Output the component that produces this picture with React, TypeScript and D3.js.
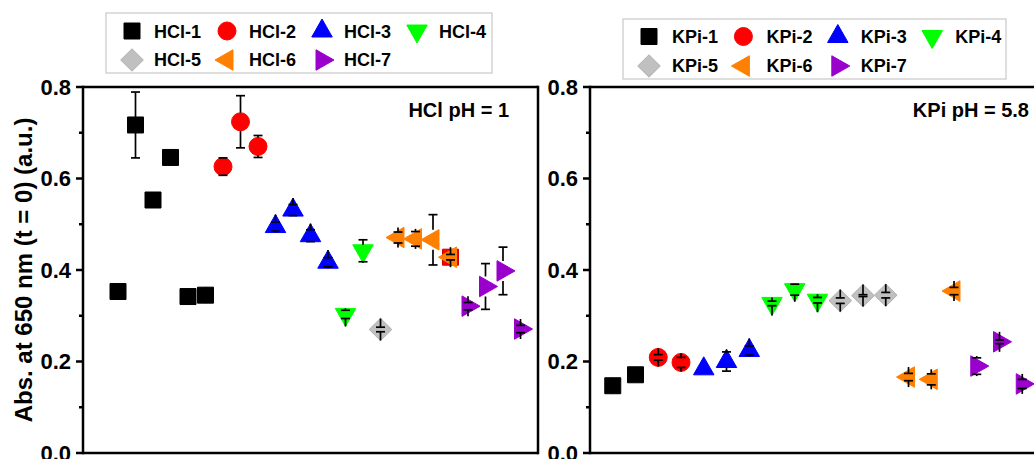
import React from "react";
import * as d3 from "d3";

// ---------- data ----------
const hclLabels = ["HCl-1", "HCl-2", "HCl-3", "HCl-4", "HCl-5", "HCl-6", "HCl-7"];
const kpiLabels = ["KPi-1", "KPi-2", "KPi-3", "KPi-4", "KPi-5", "KPi-6", "KPi-7"];
const seriesColors = ["#000000", "#ff0000", "#0000ff", "#00ff00", "#c0c0c0", "#ff8000", "#9900cc"];
const seriesShapes = ["square", "circle", "up", "down", "diamond", "left", "right"];

// HCl pH = 1 panel (sample position, value, error)
const hclX = [[2, 3, 4, 5, 6, 7], [8, 9, 10], [11, 12, 13, 14], [15, 16], [17], [18, 19, 20, 21], [22, 23, 24, 25]];
const hclY = [
  [0.353, 0.717, 0.553, 0.646, 0.342, 0.345],
  [0.626, 0.724, 0.670],
  [0.495, 0.531, 0.475, 0.417],
  [0.303, 0.442],
  [0.270],
  [0.471, 0.468, 0.466, 0.428],
  [0.321, 0.364, 0.398, 0.271],
];
const hclErr = [
  [0.004, 0.072, 0.002, 0.002, 0.003, 0.003],
  [0.019, 0.057, 0.024],
  [0.010, 0.012, 0.013, 0.010],
  [0.009, 0.024],
  [0.005],
  [0.012, 0.016, 0.055, 0.006],
  [0.008, 0.050, 0.052, 0.008],
];
// a red square hidden behind the last HCl-6 point
const hclHiddenX = [21];
const hclHiddenY = [0.428];

// KPi pH = 5.8 panel
const kpiX = [[1, 2], [3, 4], [5, 6, 7], [8, 9, 10], [11, 12, 13], [14, 15, 16], [17, 18, 19]];
const kpiY = [
  [0.147, 0.171],
  [0.209, 0.198],
  [0.184, 0.200, 0.224],
  [0.327, 0.357, 0.334],
  [0.333, 0.344, 0.345],
  [0.166, 0.161, 0.354],
  [0.190, 0.243, 0.151],
];
const kpiErr = [
  [0.002, 0],
  [0.006, 0.011],
  [0, 0.021, 0.010],
  [0.005, 0.012, 0.006],
  [0.006, 0.002, 0.006],
  [0.008, 0.012, 0.008],
  [0.018, 0.004, 0.010],
];

const yTicksMajor = [0, 0.2, 0.4, 0.6, 0.8];
const yTicksMinor = [0.1, 0.3, 0.5, 0.7];
const yTitle = "Abs. at 650 nm (t = 0) (a.u.)";
const hclNote = "HCl pH = 1";
const kpiNote = "KPi pH = 5.8";

// ---------- helpers ----------
const FONT = "'Liberation Sans', Arial, Helvetica, sans-serif";
const TB = 20.5; // triangle base
const TH = 18; // triangle height

function shapePath(shape: string): string {
  const b = TB / 2;
  const a = (2 * TH) / 3;
  const c = TH / 3;
  switch (shape) {
    case "square":
      return "M-8,-8H8V8H-8Z";
    case "circle": {
      const r = 9;
      return `M${r},0A${r},${r} 0 1 1 ${-r},0A${r},${r} 0 1 1 ${r},0Z`;
    }
    case "up":
      return `M0,${-a}L${b},${c}L${-b},${c}Z`;
    case "down":
      return `M0,${a}L${b},${-c}L${-b},${-c}Z`;
    case "left":
      return `M${-a},0L${c},${-b}L${c},${b}Z`;
    case "right":
      return `M${a},0L${-c},${-b}L${-c},${b}Z`;
    case "diamond":
      return "M0,-11.2L11.3,0L0,11.2L-11.3,0Z";
  }
  return "";
}

function shapeExtent(shape: string): [number, number] {
  switch (shape) {
    case "square":
      return [-8, 8];
    case "circle":
      return [-9, 9];
    case "up":
      return [-12, 6];
    case "down":
      return [-6, 12];
    case "diamond":
      return [-11, 11];
    default:
      return [-10, 10];
  }
}

const y = d3.scaleLinear().domain([0, 0.8]).range([453, 87]);
const fmt = d3.format(".1f");

type PanelProps = {
  x0: number;
  x1: number;
  xDomain: [number, number];
  frameRight: boolean;
  xs: number[][];
  ys: number[][];
  errs: number[][];
  labels: string[];
  legend: { left: number; top: number; right: number; bottom: number; sx: number; step: number; tOff: number; rows: number[]; base: number[] };
  note: string;
  noteX: number;
  hiddenX?: number[];
  hiddenY?: number[];
};

function Panel(p: PanelProps) {
  const x = d3.scaleLinear().domain(p.xDomain).range([p.x0, p.x1]);
  const axisW = 2.5;
  const markers: JSX.Element[] = [];
  const bars: JSX.Element[] = [];

  if (p.hiddenX && p.hiddenY) {
    p.hiddenX.forEach((xv, i) => {
      markers.push(
        <path
          key={`h${i}`}
          d={shapePath("square")}
          transform={`translate(${x(xv)},${y(p.hiddenY![i])})`}
          fill="#ff0000"
          stroke="#d00000"
          strokeWidth={1}
        />
      );
    });
  }

  p.xs.forEach((xsArr, s) => {
    const shape = seriesShapes[s];
    const col = seriesColors[s];
    const [top, bot] = shapeExtent(shape);
    xsArr.forEach((xv, i) => {
      const cx = x(xv);
      const cy = y(p.ys[s][i]);
      markers.push(
        <path
          key={`m${s}-${i}`}
          d={shapePath(shape)}
          transform={`translate(${cx},${cy})`}
          fill={col}
          stroke={s === 4 ? "#b0b0b0" : col}
          strokeWidth={1}
        />
      );
      const e = p.errs[s][i];
      if (e > 0) {
        const capTop = y(p.ys[s][i] + e);
        const capBot = y(p.ys[s][i] - e);
        bars.push(
          <g key={`e${s}-${i}`} stroke="#000" strokeWidth={1.7} fill="none">
            <line x1={cx} x2={cx} y1={cy + top} y2={capTop} />
            <line x1={cx} x2={cx} y1={cy + bot} y2={capBot} />
            <line x1={cx - 4.5} x2={cx + 4.5} y1={capTop} y2={capTop} />
            <line x1={cx - 4.5} x2={cx + 4.5} y1={capBot} y2={capBot} />
          </g>
        );
      }
    });
  });

  const L = p.legend;
  return (
    <g>
      {/* frame */}
      <g stroke="#000" strokeWidth={axisW} fill="none">
        <line x1={p.x0} x2={p.x1} y1={y(0.8)} y2={y(0.8)} />
        <line x1={p.x0} x2={p.x1} y1={y(0)} y2={y(0)} />
        <line x1={p.x0} x2={p.x0} y1={y(0.8) - 1.2} y2={y(0) + 1.2} />
        {p.frameRight && <line x1={p.x1} x2={p.x1} y1={y(0.8) - 1.2} y2={y(0) + 1.2} />}
        {yTicksMajor.map((t) => (
          <line key={`t${t}`} x1={p.x0 - 7} x2={p.x0} y1={y(t)} y2={y(t)} />
        ))}
        {yTicksMinor.map((t) => (
          <line key={`n${t}`} x1={p.x0 - 4} x2={p.x0} y1={y(t)} y2={y(t)} />
        ))}
      </g>
      {yTicksMajor.map((t) => (
        <text
          key={`l${t}`}
          x={p.x0 - 12}
          y={y(t)}
          dy="0.36em"
          textAnchor="end"
          fontFamily={FONT}
          fontWeight="bold"
          fontSize={22}
        >
          {fmt(t)}
        </text>
      ))}
      {markers}
      {bars}
      <text x={p.noteX} y={117} textAnchor="end" fontFamily={FONT} fontWeight="bold" fontSize={20}>
        {p.note}
      </text>
      {/* legend */}
      <rect x={L.left} y={L.top} width={L.right - L.left} height={L.bottom - L.top} fill="#fff" stroke="#c8c8c8" strokeWidth={1.2} />
      {p.labels.map((lab, i) => {
        const r = Math.floor(i / 4);
        const c = i % 4;
        const sx = L.sx + c * L.step;
        return (
          <g key={lab}>
            <path
              d={shapePath(seriesShapes[i])}
              transform={`translate(${sx},${L.rows[r]})`}
              fill={seriesColors[i]}
              stroke={i === 4 ? "#b0b0b0" : seriesColors[i]}
              strokeWidth={1}
            />
            <text x={sx + L.tOff} y={L.base[r]} fontFamily={FONT} fontWeight="bold" fontSize={18}>
              {lab}
            </text>
          </g>
        );
      })}
    </g>
  );
}

export default function App() {
  return (
    <div style={{ position: "absolute", left: 0, top: 0, width: 1034, height: 459, overflow: "hidden", background: "#fff" }}>
      <svg width={1034} height={459} style={{ display: "block" }}>
        <rect x={0} y={0} width={1034} height={459} fill="#fff" />
        <text
          transform={`translate(32,${(118 + 422) / 2}) rotate(-90)`}
          textAnchor="middle"
          fontFamily={FONT}
          fontWeight="bold"
          fontSize={24}
        >
          {yTitle}
        </text>
        <Panel
          x0={83}
          x1={538}
          xDomain={[0, 26]}
          frameRight={true}
          xs={hclX}
          ys={hclY}
          errs={hclErr}
          labels={hclLabels}
          legend={{ left: 106, top: 13, right: 492, bottom: 73, sx: 132, step: 95, tOff: 22, rows: [31, 60], base: [37.5, 66] }}
          note={hclNote}
          noteX={509}
          hiddenX={hclHiddenX}
          hiddenY={hclHiddenY}
        />
        <Panel
          x0={590}
          x1={1045}
          xDomain={[0, 20]}
          frameRight={false}
          xs={kpiX}
          ys={kpiY}
          errs={kpiErr}
          labels={kpiLabels}
          legend={{ left: 623, top: 19, right: 1006, bottom: 79, sx: 649, step: 94.4, tOff: 23, rows: [36.5, 66], base: [43, 72] }}
          note={kpiNote}
          noteX={1029}
        />
      </svg>
    </div>
  );
}
